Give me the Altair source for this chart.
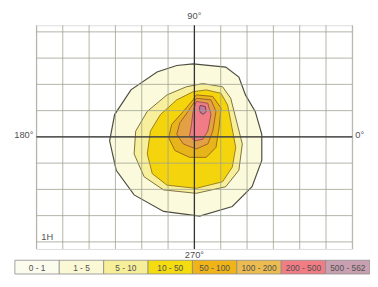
import altair as alt
import pandas as pd

# ---- contour outlines, in grid-cell units (origin = centre of the diagram) ----
c1_x = [-0.05, 1.19, 1.69, 1.94, 2.31, 2.56, 2.56, 2.19, 1.44, 0.20, -1.17, -2.29, -2.97, -3.22, -3.03, -2.41, -1.42, -0.67]
c1_y = [2.78, 2.66, 2.28, 1.60, 0.97, 0.10, -0.90, -1.90, -2.65, -3.02, -2.84, -2.21, -1.27, -0.15, 0.85, 1.79, 2.47, 2.72]

c5_x = [0.32, 1.07, 1.38, 1.57, 1.82, 1.69, 1.19, 0.07, -1.17, -1.91, -2.29, -2.23, -1.79, -1.04, -0.30]
c5_y = [2.03, 1.91, 1.47, 0.72, -0.27, -1.27, -1.90, -2.15, -2.02, -1.52, -0.65, 0.22, 0.97, 1.60, 1.91]

c10_x = [0.45, 1.01, 1.26, 1.38, 1.57, 1.44, 1.07, 0.07, -1.04, -1.60, -1.79, -1.67, -1.29, -0.67, -0.05]
c10_y = [1.79, 1.66, 1.22, 0.60, -0.40, -1.15, -1.71, -1.96, -1.84, -1.40, -0.65, 0.22, 0.85, 1.41, 1.72]

c50_x = [0.07, 0.70, 1.01, 0.94, 0.82, 0.45, -0.18, -0.74, -0.98, -0.86, -0.42, -0.05]
c50_y = [1.60, 1.54, 1.10, 0.35, -0.40, -0.78, -0.78, -0.52, -0.03, 0.48, 0.97, 1.41]

c100_x = [0.07, 0.63, 0.82, 0.70, 0.51, 0.07, -0.42, -0.67, -0.55, -0.24, 0.01]
c100_y = [1.47, 1.41, 0.97, 0.22, -0.27, -0.46, -0.27, 0.10, 0.54, 0.97, 1.35]

c200_x = [0.07, 0.51, 0.63, 0.51, 0.32, 0.01, -0.18, -0.11, -0.05]
c200_y = [1.35, 1.28, 0.85, 0.22, -0.09, -0.15, 0.04, 0.48, 0.97]

c500_x = [0.22, 0.41, 0.45, 0.34, 0.22, 0.19]
c500_y = [1.20, 1.16, 0.97, 0.86, 0.93, 1.08]

# ---- grid ----
grid_x = [-6, -5, -4, -3, -2, -1, 0, 1, 2, 3, 4, 5, 6]
grid_y = [-4, -3, -2, -1, 0, 1, 2, 3, 4]

# ---- legend ----
legend_labels = ["0 - 1", "1 - 5", "5 - 10", "10 - 50", "50 - 100", "100 - 200", "200 - 500", "500 - 562"]
legend_colors = ["#fbfbee", "#fbf8d6", "#f7ee9a", "#f4dc10", "#f0b418", "#ecbc50", "#f07c84", "#c8a0b0"]

# ---- axis labels ----
label_top, label_left, label_right, label_bottom, label_corner = "90°", "180°", "0°", "270°", "1H"

XD = [-6, 6]
YD = [-4.27, 4.25]
xs = alt.Scale(domain=XD, nice=False, zero=False)
ys = alt.Scale(domain=YD, nice=False, zero=False)


def poly(xl, yl, fill, stroke, sw=1.0):
    df = pd.DataFrame({"x": xl, "y": yl, "i": list(range(len(xl)))})
    return alt.Chart(df).mark_line(
        interpolate="linear-closed", fill=fill, stroke=stroke, strokeWidth=sw
    ).encode(
        x=alt.X("x:Q", scale=xs, axis=None),
        y=alt.Y("y:Q", scale=ys, axis=None),
        order="i:Q",
    )


gx = alt.Chart(pd.DataFrame({"v": grid_x})).mark_rule(color="#9ea290", strokeWidth=0.8).encode(
    x=alt.X("v:Q", scale=xs, axis=None))
gy = alt.Chart(pd.DataFrame({"v": grid_y})).mark_rule(color="#9ea290", strokeWidth=0.8).encode(
    y=alt.Y("v:Q", scale=ys, axis=None))

zero = pd.DataFrame({"v": [0]})
vline = alt.Chart(zero).mark_rule(color="#333333", strokeWidth=1.3).encode(x=alt.X("v:Q", scale=xs, axis=None))
hline = alt.Chart(zero).mark_rule(color="#333333", strokeWidth=1.3).encode(y=alt.Y("v:Q", scale=ys, axis=None))


def label(t, x, y, **kw):
    df = pd.DataFrame({"lx": [x], "ly": [y], "lt": [t]})
    return alt.Chart(df).mark_text(fontSize=9.5, color="#505050", fill="#505050", font="Liberation Sans", **kw).encode(
        x=alt.X("lx:Q", scale=xs, axis=None), y=alt.Y("ly:Q", scale=ys, axis=None),
        text="lt:N", fill=alt.value("#505050"))


main = alt.layer(
    poly(c1_x, c1_y, "#fcfadc", "#4e4e40", 1.2),
    poly(c5_x, c5_y, "#f7ef9c", "#7a7040", 1.0),
    poly(c10_x, c10_y, "#f4d40c", "#9a8020", 1.0),
    poly(c50_x, c50_y, "#e8b41c", "#9a6a14", 1.0),
    poly(c100_x, c100_y, "#e3a044", "#a0602a", 1.0),
    poly(c200_x, c200_y, "#f07c88", "#a05050", 1.0),
    poly(c500_x, c500_y, "#c07a9a", "#704050", 1.0),
    gx,
    gy,
    vline,
    hline,
    label(label_top, 0, YD[1], dy=-9),
    label(label_left, XD[0], 0, align="right", dx=-3, dy=-2),
    label(label_right, XD[1], 0, align="left", dx=3, dy=-2),
    label(label_bottom, 0, YD[0], dy=6),
    label(label_corner, XD[0], YD[0], align="left", dx=5, dy=-12),
)

leg = pd.DataFrame({"label": legend_labels, "color": legend_colors})
lx = alt.X("label:N", sort=legend_labels,
           scale=alt.Scale(domain=legend_labels, range=[-22, 340], paddingInner=0, paddingOuter=0),
           axis=None)
legend_rect = alt.Chart(leg).mark_rect(stroke="#8a8a8a", strokeWidth=0.8).encode(
    x=lx, y=alt.value(239.5), y2=alt.value(253.5), fill=alt.Fill("color:N", scale=None))
legend_text = alt.Chart(leg).mark_text(fontSize=8.5, fill="#505050", font="Liberation Sans").encode(
    x=lx, y=alt.value(247), text="label:N")

chart = alt.layer(main, legend_rect, legend_text).resolve_scale(x="independent").properties(
    width=322, height=228,
    autosize=alt.AutoSizeParams(type="none"),
    padding={"left": 29, "top": 15, "right": 18, "bottom": 30},
).configure_view(fill="#fdfce2", stroke="#555555", strokeWidth=1.6).configure(background="white")

chart.save("out.html", embed_options={"renderer": "svg", "actions": False})
